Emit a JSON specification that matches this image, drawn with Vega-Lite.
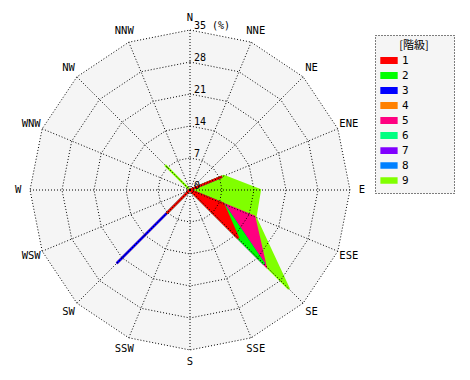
{
  "$schema": "https://vega.github.io/schema/vega-lite/v6.json",
  "width": 320,
  "height": 320,
  "autosize": {"type": "none"},
  "padding": {"left": 30, "top": 30, "right": 120, "bottom": 30},
  "background": "white",
  "config": {"view": {"stroke": null}},
  "datasets": {
    "winds": [
      {"dir": "N", "i": 0, "c1": 0, "c2": 0, "c3": 0, "c4": 0, "c5": 0, "c6": 0, "c7": 0, "c8": 0, "c9": 0},
      {"dir": "NNE", "i": 1, "c1": 0, "c2": 0, "c3": 0, "c4": 0, "c5": 0, "c6": 0, "c7": 0, "c8": 0, "c9": 0},
      {"dir": "NE", "i": 2, "c1": 0, "c2": 0, "c3": 0, "c4": 0, "c5": 0, "c6": 0, "c7": 0, "c8": 0, "c9": 0},
      {"dir": "ENE", "i": 3, "c1": 7.6, "c2": 0, "c3": 0, "c4": 0, "c5": 0, "c6": 0, "c7": 0, "c8": 0, "c9": 0.4},
      {"dir": "E", "i": 4, "c1": 0, "c2": 0, "c3": 0, "c4": 0, "c5": 0, "c6": 0, "c7": 0, "c8": 0, "c9": 15.3},
      {"dir": "ESE", "i": 5, "c1": 7.85, "c2": 0, "c3": 0, "c4": 0, "c5": 7.35, "c6": 0, "c7": 0, "c8": 0, "c9": 0.3},
      {"dir": "SE", "i": 6, "c1": 14.9, "c2": 8.0, "c3": 0, "c4": 0, "c5": 0.4, "c6": 0, "c7": 0, "c8": 0, "c9": 7.3},
      {"dir": "SSE", "i": 7, "c1": 0, "c2": 0, "c3": 0, "c4": 0, "c5": 0, "c6": 0, "c7": 0, "c8": 0, "c9": 0},
      {"dir": "S", "i": 8, "c1": 0, "c2": 0, "c3": 0, "c4": 0, "c5": 0, "c6": 0, "c7": 0, "c8": 0, "c9": 0},
      {"dir": "SSW", "i": 9, "c1": 0, "c2": 0, "c3": 0, "c4": 0, "c5": 0, "c6": 0, "c7": 0, "c8": 0, "c9": 0},
      {"dir": "SW", "i": 10, "c1": 7.2, "c2": 0, "c3": 15.5, "c4": 0, "c5": 0, "c6": 0, "c7": 0, "c8": 0, "c9": 0},
      {"dir": "WSW", "i": 11, "c1": 0, "c2": 0, "c3": 0, "c4": 0, "c5": 0, "c6": 0, "c7": 0, "c8": 0, "c9": 0},
      {"dir": "W", "i": 12, "c1": 0, "c2": 0, "c3": 0, "c4": 0, "c5": 0, "c6": 0, "c7": 0, "c8": 0, "c9": 0},
      {"dir": "WNW", "i": 13, "c1": 0, "c2": 0, "c3": 0, "c4": 0, "c5": 0, "c6": 0, "c7": 0, "c8": 0, "c9": 0},
      {"dir": "NW", "i": 14, "c1": 0, "c2": 0, "c3": 0, "c4": 0, "c5": 0, "c6": 0, "c7": 0, "c8": 0, "c9": 7.7},
      {"dir": "NNW", "i": 15, "c1": 0, "c2": 0, "c3": 0, "c4": 0, "c5": 0, "c6": 0, "c7": 0, "c8": 0, "c9": 0}
    ],
    "ticks": [
      {"t": "0", "v": 0},
      {"t": "7", "v": 7},
      {"t": "14", "v": 14},
      {"t": "21", "v": 21},
      {"t": "28", "v": 28},
      {"t": "35 (%)", "v": 35}
    ]
  },
  "layer": [
    {
      "data": {"name": "winds"},
      "transform": [
        {"calculate": "35*sin(datum.i*PI/8)", "as": "x"},
        {"calculate": "35*cos(datum.i*PI/8)", "as": "y"}
      ],
      "mark": {"type": "line", "filled": true, "interpolate": "linear-closed", "color": "#F5F5F5", "strokeWidth": 0},
      "encoding": {
        "x": {"field": "x", "type": "quantitative", "scale": {"domain": [-35, 35], "nice": false, "zero": false}, "axis": null},
        "y": {"field": "y", "type": "quantitative", "scale": {"domain": [-35, 35], "nice": false, "zero": false}, "axis": null},
        "order": {"field": "i", "type": "quantitative"}
      }
    },
    {
      "data": {"name": "winds"},
      "transform": [
        {"fold": ["c9", "c8", "c7", "c6", "c5", "c4", "c3", "c2", "c1"], "as": ["cls", "v"]},
        {"window": [{"op": "sum", "field": "v", "as": "cum"}], "groupby": ["dir"], "sort": [{"field": "cls", "order": "ascending"}], "frame": [null, 0]},
        {"joinaggregate": [{"op": "sum", "field": "v", "as": "tot"}], "groupby": ["cls"]},
        {"filter": "datum.tot > 0"},
        {"calculate": "datum.cum*sin(datum.i*PI/8)", "as": "x"},
        {"calculate": "datum.cum*cos(datum.i*PI/8)", "as": "y"}
      ],
      "mark": {"type": "line", "filled": true, "interpolate": "linear-closed", "strokeJoin": "miter"},
      "encoding": {
        "x": {"field": "x", "type": "quantitative"},
        "y": {"field": "y", "type": "quantitative"},
        "order": {"field": "i", "type": "quantitative"},
        "color": {
          "field": "cls", "type": "nominal",
          "scale": {"domain": ["c1", "c2", "c3", "c4", "c5", "c6", "c7", "c8", "c9"], "range": ["#FF0000", "#00FF00", "#0000FF", "#FF8000", "#FF0080", "#00FF80", "#8000FF", "#0080FF", "#80FF00"]},
          "legend": {
            "orient": "none", "legendX": 345, "legendY": 5,
            "title": "[階級]", "titleFont": "Noto Sans CJK JP", "titleFontSize": 11, "titleFontWeight": "normal", "titleAnchor": "middle", "titleColor": "black", "titlePadding": 2,
            "padding": 5, "strokeColor": "black", "fillColor": "#F5F5F5",
            "symbolType": "M-1,-0.3H1V0.3H-1Z", "symbolSize": 225, "symbolStrokeWidth": 0, "symbolOpacity": 1,
            "labelFont": "DejaVu Sans Mono", "labelFontSize": 11, "labelColor": "black", "labelOffset": 4,
            "rowPadding": 0, "clipHeight": 15,
            "labelExpr": "replace(datum.label, 'c', '') + '⠀⠀⠀⠀⠀'",
            "encoding": {"legend": {"strokeDash": {"value": [1, 2]}}}
          }
        },
        "stroke": {
          "field": "cls", "type": "nominal",
          "scale": {"domain": ["c1", "c2", "c3", "c4", "c5", "c6", "c7", "c8", "c9"], "range": ["#FF0000", "#00FF00", "#0000FF", "#FF8000", "#FF0080", "#00FF80", "#8000FF", "#0080FF", "#80FF00"]},
          "legend": null
        },
        "strokeWidth": {
          "field": "cls", "type": "ordinal",
          "scale": {"domain": ["c1", "c2", "c3", "c4", "c5", "c6", "c7", "c8", "c9"], "range": [2.4, 2.2, 2.0, 1.9, 1.8, 1.7, 1.7, 1.6, 1.6]},
          "legend": null
        }
      }
    },
    {
      "data": {"name": "winds"},
      "transform": [
        {"calculate": "[7, 14, 21, 28, 35]", "as": "lv"},
        {"flatten": ["lv"]},
        {"calculate": "datum.lv*sin(datum.i*PI/8)", "as": "x"},
        {"calculate": "datum.lv*cos(datum.i*PI/8)", "as": "y"}
      ],
      "mark": {"type": "line", "interpolate": "linear-closed", "stroke": "black", "strokeWidth": 1, "strokeDash": [1, 2]},
      "encoding": {
        "x": {"field": "x", "type": "quantitative"},
        "y": {"field": "y", "type": "quantitative"},
        "order": {"field": "i", "type": "quantitative"},
        "detail": {"field": "lv", "type": "nominal"}
      }
    },
    {
      "data": {"name": "winds"},
      "transform": [
        {"calculate": "0", "as": "x0"},
        {"calculate": "0", "as": "y0"},
        {"calculate": "35*sin(datum.i*PI/8)", "as": "x"},
        {"calculate": "35*cos(datum.i*PI/8)", "as": "y"}
      ],
      "mark": {"type": "rule", "stroke": "black", "strokeWidth": 1, "strokeDash": [1, 2]},
      "encoding": {
        "x": {"field": "x0", "type": "quantitative"},
        "y": {"field": "y0", "type": "quantitative"},
        "x2": {"field": "x"},
        "y2": {"field": "y"}
      }
    },
    {
      "data": {"name": "winds"},
      "transform": [
        {"calculate": "37.6*sin(datum.i*PI/8)", "as": "x"},
        {"calculate": "37.6*cos(datum.i*PI/8)", "as": "y"}
      ],
      "mark": {"type": "text", "font": "DejaVu Sans Mono", "fontSize": 10.5, "color": "black", "align": "center", "baseline": "middle"},
      "encoding": {
        "x": {"field": "x", "type": "quantitative"},
        "y": {"field": "y", "type": "quantitative"},
        "text": {"field": "dir"}
      }
    },
    {
      "data": {"name": "ticks"},
      "transform": [{"calculate": "0", "as": "x0"}],
      "mark": {"type": "text", "font": "DejaVu Sans Mono", "fontSize": 10, "color": "black", "align": "left", "baseline": "alphabetic", "dx": 4, "dy": -1},
      "encoding": {
        "x": {"field": "x0", "type": "quantitative"},
        "y": {"field": "v", "type": "quantitative"},
        "text": {"field": "t"}
      }
    }
  ]
}
